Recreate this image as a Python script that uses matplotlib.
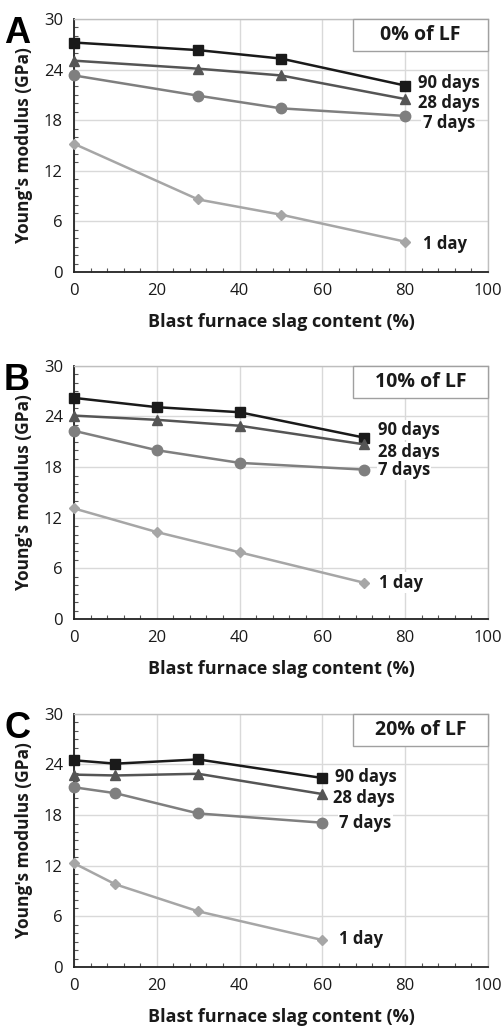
import numpy as np
import matplotlib.pyplot as plt
from matplotlib.patches import Rectangle

plt.rcParams['font.family'] = ['Open Sans', 'DejaVu Sans']

# data (x = slag content %, y = Young's modulus GPa)
x_a = [0, 30, 50, 80]
a_90 = [27.2, 26.3, 25.3, 22.1]
a_28 = [25.05, 24.1, 23.3, 20.5]
a_7 = [23.3, 20.9, 19.4, 18.5]
a_1 = [15.2, 8.6, 6.8, 3.6]

x_b = [0, 20, 40, 70]
b_90 = [26.2, 25.1, 24.5, 21.5]
b_28 = [24.1, 23.6, 22.9, 20.7]
b_7 = [22.3, 20.0, 18.5, 17.7]
b_1 = [13.1, 10.3, 7.9, 4.3]

x_c = [0, 10, 30, 60]
c_90 = [24.5, 24.1, 24.6, 22.4]
c_28 = [22.8, 22.7, 22.9, 20.5]
c_7 = [21.3, 20.6, 18.2, 17.1]
c_1 = [12.3, 9.8, 6.6, 3.2]

ages = ['90 days', '28 days', '7 days', '1 day']
panel_letters = ['A', 'B', 'C']
lf_labels = ['0% of LF', '10% of LF', '20% of LF']

# label anchor points (data coords) for the age labels
lab_a = [(83, 22.4), (83, 20.0), (84.2, 17.7), (84.2, 3.3)]
lab_b = [(73.4, 22.4), (73.4, 19.8), (73.4, 17.7), (73.7, 4.3)]
lab_c = [(63, 22.5), (62.6, 20.0), (64, 17.1), (64, 3.3)]

colors = ['#1a1a1a', '#555555', '#7f7f7f', '#a6a6a6']
markers = ['s', '^', 'o', 'D']
msizes = [7.5, 7, 7.5, 5]

panels = [
    (x_a, [a_90, a_28, a_7, a_1], lab_a),
    (x_b, [b_90, b_28, b_7, b_1], lab_b),
    (x_c, [c_90, c_28, c_7, c_1], lab_c),
]
bottoms = [0.7351, 0.3973, 0.0584]

fig = plt.figure(figsize=(5.02, 10.27), dpi=100)

for i, (xs, series, labs) in enumerate(panels):
    ax = fig.add_axes([0.1474, bottoms[i], 0.8247, 0.2465])
    ax.set_xlim(0, 100)
    ax.set_ylim(0, 30)
    ax.set_xticks(np.arange(0, 101, 20))
    ax.set_yticks(np.arange(0, 31, 6))
    ax.set_xticks(np.arange(0, 101, 4), minor=True)
    ax.set_yticks(np.arange(0, 31, 1), minor=True)
    ax.grid(True, which='major', color='#d9d9d9', linewidth=1)
    ax.set_axisbelow(True)
    ax.tick_params(which='major', length=0, labelsize=12, colors='#1a1a1a', pad=8)
    ax.tick_params(which='minor', direction='in', length=3, color='#555555', width=0.8)
    ax.tick_params(axis='y', which='both', right=False)
    ax.tick_params(axis='x', which='both', top=False)
    for s in ['left', 'bottom']:
        ax.spines[s].set_color('#222222')
        ax.spines[s].set_linewidth(1.3)
    for s in ['top', 'right']:
        ax.spines[s].set_color('#bfbfbf')
        ax.spines[s].set_linewidth(1)

    for k, ys in enumerate(series):
        ax.plot(xs, ys, color=colors[k], marker=markers[k], markersize=msizes[k],
                linewidth=1.8, clip_on=False, zorder=3)
        ax.text(labs[k][0], labs[k][1], ages[k], fontsize=12, fontweight='bold',
                ha='left', va='center', color='#1a1a1a', zorder=4,
                bbox=dict(facecolor='white', edgecolor='none', pad=1))

    ax.set_xlabel('Blast furnace slag content (%)', fontsize=13, fontweight='bold',
                  labelpad=10, color='#1a1a1a')
    ax.set_ylabel("Young's modulus (GPa)", fontsize=12.5, fontweight='bold',
                  labelpad=8, color='#1a1a1a')

    ax.add_patch(Rectangle((0.674, 0.8735), 0.326, 0.1265, transform=ax.transAxes,
                           facecolor='white', edgecolor='#a0a0a0', linewidth=1,
                           zorder=5, clip_on=False))
    ax.text(0.837, 0.937, lf_labels[i], transform=ax.transAxes, fontsize=14,
            fontweight='bold', ha='center', va='center', color='#1a1a1a', zorder=6)

    fig.text(0.008, bottoms[i] + 0.2465 + 0.003, panel_letters[i], fontsize=26,
             fontweight='bold', family='Liberation Sans', ha='left', va='top')

fig.savefig('out.png', dpi=100)
